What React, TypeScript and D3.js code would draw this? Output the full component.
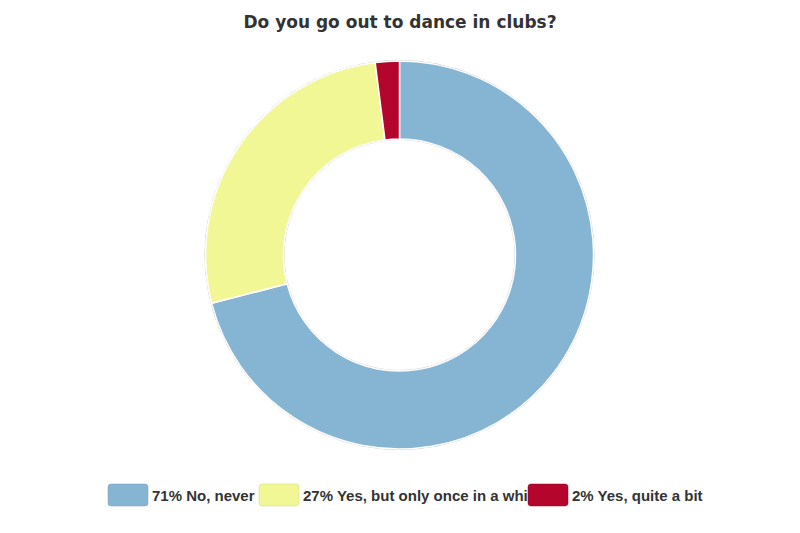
import React, { useEffect, useRef } from "react";
import * as d3 from "d3";

const labels = ["No, never", "Yes, but only once in a while", "Yes, quite a bit"];
const values = [71, 27, 2];
const colors = ["#86b5d3", "#f2f795", "#b4052d"];
const title = "Do you go out to dance in clubs?";

const App = () => {
  const svgRef = useRef(null);

  useEffect(() => {
    const width = 800;
    const height = 533;
    const svg = d3.select(svgRef.current);
    svg.selectAll("*").remove();
    svg.attr("width", width).attr("height", height);

    svg
      .append("rect")
      .attr("width", width)
      .attr("height", height)
      .attr("fill", "#fff");

    // Title
    svg
      .append("text")
      .attr("x", width / 2)
      .attr("y", 28)
      .attr("text-anchor", "middle")
      .style("font-family", "'DejaVu Sans', sans-serif")
      .style("font-weight", "bold")
      .style("font-size", "17px")
      .attr("fill", "#333")
      .text(title);

    const cx = 399.5;
    const cy = 255;
    const outer = 194;
    const inner = 116;

    const pie = d3.pie<number>().sort(null).value((d) => d);
    const arcs = pie(values);
    const arc = d3.arc<d3.PieArcDatum<number>>().innerRadius(inner).outerRadius(outer);

    const g = svg.append("g").attr("transform", `translate(${cx},${cy})`);

    // faint outline behind the ring
    g.append("circle")
      .attr("r", outer + 0.5)
      .attr("fill", "none")
      .attr("stroke", "#bbb")
      .attr("stroke-width", 1);
    g.append("circle")
      .attr("r", inner - 0.5)
      .attr("fill", "none")
      .attr("stroke", "#ccc")
      .attr("stroke-width", 1);

    g.selectAll("path.slice")
      .data(arcs)
      .join("path")
      .attr("class", "slice")
      .attr("d", arc)
      .attr("fill", (_, i) => colors[i])
      .attr("stroke", "#fff")
      .attr("stroke-width", 1.5)
      .attr("stroke-linejoin", "round");

    // Legend
    const legendX = [108, 259, 528];
    const legend = svg
      .append("g")
      .selectAll("g")
      .data(labels)
      .join("g")
      .attr("transform", (_, i) => `translate(${legendX[i]},484)`);

    legend
      .append("text")
      .attr("x", 44)
      .attr("y", 16.5)
      .style("font-family", "'Liberation Sans', Arial, sans-serif")
      .style("font-weight", "bold")
      .style("font-size", "15px")
      .attr("fill", "#333")
      .text((d, i) => `${values[i]}% ${d}`);

    legend
      .append("rect")
      .attr("width", 40)
      .attr("height", 22)
      .attr("rx", 3)
      .attr("fill", (_, i) => colors[i])
      .attr("stroke", (_, i) => d3.color(colors[i])!.darker(0.4).toString())
      .attr("stroke-width", 0.5);
  }, []);

  return (
    <div style={{ width: 800, height: 533, margin: -8 }}>
      <svg ref={svgRef} style={{ display: "block" }} />
    </div>
  );
};

export default App;
